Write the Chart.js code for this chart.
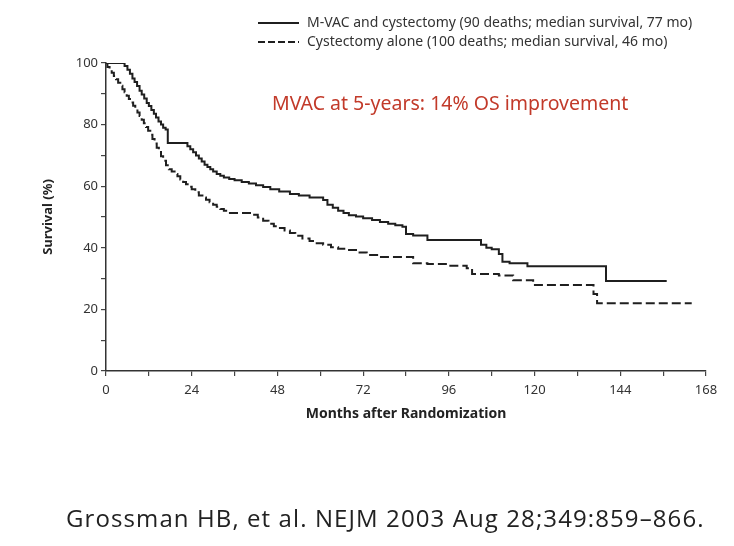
<!DOCTYPE html>
<html>
<head>
<meta charset="utf-8">
<script src="https://cdn.jsdelivr.net/npm/chart.js"></script>
<style>
  html, body { margin: 0; padding: 0; background: #fff; }
  #wrap { position: relative; width: 734px; height: 546px; }
  #cite { position: absolute; left: 66px; top: 503px; font: 24px "Open Sans", sans-serif; line-height: 30px; letter-spacing: 1.1px; color: #222; white-space: nowrap; }
</style>
</head>
<body>
<div id="wrap">
  <canvas id="km" width="734" height="546"></canvas>
  <div id="cite">Grossman HB, et al. NEJM 2003 Aug 28;349:859–866.</div>
</div>
<script>
// Kaplan-Meier curves (months, % surviving)
const mvacMonths = [0, 4.5, 5.2, 6, 6.7, 7.4, 8, 8.7, 9.4, 10, 10.7, 11.4, 12, 12.7, 13.4, 14, 14.7, 15.4, 16, 16.7,
  17.3, 22.8, 23.6, 24.4, 25.2, 26, 26.8, 27.6, 28.4, 29.2, 30, 31, 32, 33, 34.5, 36, 38, 40, 42, 44,
  46, 48.5, 51.5, 54, 57, 60.8, 62, 63.5, 65, 66.5, 68, 70, 72, 74.5, 76.7, 79, 81, 83, 84, 86,
  90, 105, 106.5, 108, 110, 111, 113, 118, 140, 157];
const mvacSurv = [100, 100, 99, 97.8, 96.5, 95, 93.8, 92.5, 91, 89.8, 88.5, 87, 86, 84.7, 83.5, 82.3, 81, 80, 79, 78.4,
  74, 73, 72, 71, 70, 69, 68, 67, 66.2, 65.5, 64.8, 64, 63.4, 62.8, 62.3, 61.9, 61.4, 60.9, 60.3, 59.7,
  59, 58.3, 57.5, 57, 56.3, 55.5, 54, 53, 52, 51.3, 50.6, 50.2, 49.6, 49, 48.4, 47.8, 47.3, 46.8, 44.5, 44,
  42.5, 41, 40, 39.5, 38, 35.5, 35, 34, 29.2, 29.2];

const cystMonths = [0, 0.4, 1, 1.6, 2.2, 2.8, 3.4, 4, 4.6, 5.2, 5.8, 6.4, 7, 7.6, 8.2, 8.8, 9.4, 10, 10.6, 11.2,
  11.8, 12.4, 13, 13.6, 14.2, 14.8, 15.4, 16, 16.8, 17.6, 18.4, 19.2, 20, 20.8, 21.6, 22.4, 23.2, 24, 25, 26,
  27, 28, 29, 30, 31, 32, 33, 34.7, 41, 42.5, 44, 45.5, 47, 48.7, 50, 51.5, 53, 55, 57, 59,
  60.8, 63, 65, 67.5, 70, 73, 76.7, 86, 90, 96, 101, 102.5, 110, 114, 119.6, 135.5, 136.5, 137.5, 164];
const cystSurv = [100, 98.7, 97.8, 96.8, 95.8, 94.7, 93.6, 92.6, 91.5, 90.5, 89.4, 88.3, 87.2, 86.1, 85, 83.9, 82.8, 81.6, 80.4, 79.2,
  78, 76.7, 75.3, 73.9, 72.5, 71.1, 69.7, 68.3, 66.8, 65.5, 64.8, 64, 63.2, 62.2, 61.4, 60.6, 59.8, 59, 58, 57,
  56.3, 55.6, 54.8, 54, 53.3, 52.6, 52, 51.3, 50.7, 49.8, 48.8, 47.8, 47, 46.4, 45.6, 44.8, 43.9, 43, 42.2, 41.5,
  41, 40.2, 39.7, 39.3, 38.5, 37.7, 37, 35, 34.7, 34.2, 33.4, 31.5, 31, 29.5, 27.9, 27.9, 25, 22, 22];

const seriesLabels = [
  'M-VAC and cystectomy (90 deaths; median survival, 77 mo)',
  'Cystectomy alone (100 deaths; median survival, 46 mo)'
];
const xMax = 168;
const xStep = 12;   // minor ticks, labels every 24
const yStep = 10;   // minor ticks, labels every 20
const note = 'MVAC at 5-years: 14% OS improvement';

const toPoints = (xs, ys) => xs.map((x, i) => ({ x: x, y: ys[i] }));

const ink = '#1f1f1f';
const fontFam = '"Noto Sans", sans-serif';

// legend rows + red annotation, drawn on top of the chart
const overlay = {
  id: 'overlay',
  afterDraw(chart) {
    const ctx = chart.ctx;
    ctx.save();
    const rows = [23, 42];
    rows.forEach((y, i) => {
      ctx.strokeStyle = ink;
      ctx.lineWidth = 1.8;
      ctx.setLineDash(i === 0 ? [] : [7, 3]);
      ctx.beginPath();
      ctx.moveTo(258, y);
      ctx.lineTo(299, y);
      ctx.stroke();
      ctx.setLineDash([]);
      ctx.fillStyle = '#333';
      ctx.font = '14px ' + fontFam;
      ctx.textBaseline = 'middle';
      ctx.textAlign = 'left';
      ctx.fillText(seriesLabels[i], 307, y);
    });
    ctx.fillStyle = '#c23a2a';
    ctx.font = '19.5px ' + fontFam;
    ctx.textBaseline = 'alphabetic';
    ctx.fillText(note, 272, 110);
    ctx.restore();
  }
};

new Chart(document.getElementById('km'), {
  type: 'line',
  data: {
    datasets: [
      {
        label: seriesLabels[0],
        data: toPoints(mvacMonths, mvacSurv),
        borderColor: ink,
        borderWidth: 2,
        pointRadius: 0,
        stepped: true,
        fill: false
      },
      {
        label: seriesLabels[1],
        data: toPoints(cystMonths, cystSurv),
        borderColor: ink,
        borderWidth: 2,
        borderDash: [9, 4],
        pointRadius: 0,
        stepped: true,
        fill: false
      }
    ]
  },
  options: {
    responsive: false,
    animation: false,
    layout: { padding: { left: 0, top: 63, right: 28, bottom: 115 } },
    plugins: {
      legend: { display: false },
      tooltip: { enabled: false }
    },
    scales: {
      x: {
        type: 'linear',
        min: 0,
        max: xMax,
        afterFit: s => { s.height = 60; },
        ticks: {
          stepSize: xStep,
          autoSkip: false,
          maxRotation: 0,
          padding: 6,
          color: '#333',
          font: { family: fontFam, size: 13 },
          callback: v => (v % 24 === 0 ? v : '')
        },
        grid: { drawOnChartArea: false, drawTicks: true, tickLength: 5, color: '#444', lineWidth: 1.2 },
        border: { color: '#333', width: 1.5 },
        title: {
          display: true,
          text: 'Months after Randomization',
          color: '#222',
          font: { family: fontFam, size: 14, weight: 'bold' },
          padding: { top: 0, bottom: 9 }
        }
      },
      y: {
        min: 0,
        max: 100,
        afterFit: s => { s.width = 106; },
        ticks: {
          stepSize: yStep,
          autoSkip: false,
          padding: 3,
          color: '#333',
          font: { family: fontFam, size: 13 },
          callback: v => (v % 20 === 0 ? v : '')
        },
        grid: { drawOnChartArea: false, drawTicks: true, tickLength: 5, color: '#444', lineWidth: 1.2 },
        border: { color: '#333', width: 1.5 },
        title: {
          display: true,
          text: 'Survival (%)',
          color: '#222',
          font: { family: fontFam, size: 13, weight: 'bold' },
          padding: { top: 40, bottom: 0 }
        }
      }
    }
  },
  plugins: [overlay]
});
</script>
</body>
</html>
